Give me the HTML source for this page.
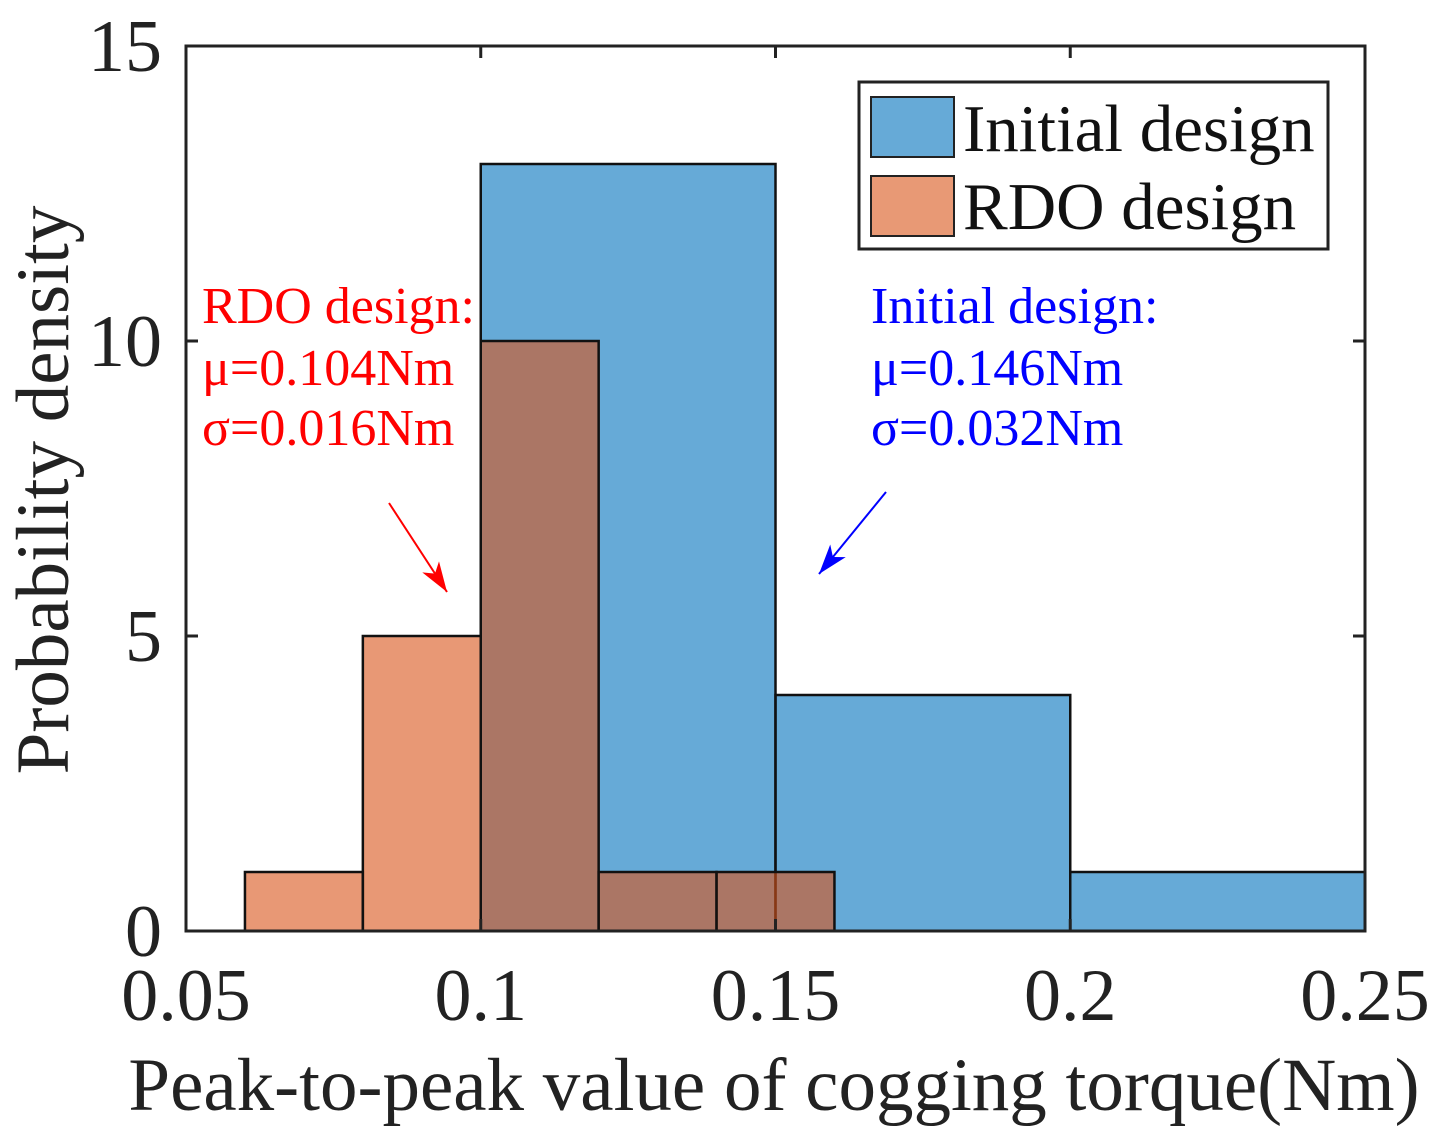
<!DOCTYPE html>
<html><head><meta charset="utf-8"><style>
body{margin:0;background:#fff}
svg{display:block}
text{font-family:"Liberation Serif",serif}
</style></head><body>
<svg id="chart" width="1444" height="1142" xmlns="http://www.w3.org/2000/svg">
<defs><marker id="ar" markerWidth="32" markerHeight="24" refX="30" refY="12" orient="auto" markerUnits="userSpaceOnUse"><path d="M0,2 L30,12 L0,22 L8,12 Z" fill="context-stroke"/></marker></defs>
<g id="bars"></g>
<g id="axes"></g>
<g>
<rect x="859" y="82" width="469" height="167" fill="#fff" stroke="#222" stroke-width="3"/>
<rect x="871" y="97" width="83" height="60" fill="#66aad7" stroke="#222" stroke-width="2"/>
<text x="963" y="151" font-size="67" fill="#111">Initial design</text>
<rect x="871" y="176" width="83" height="60" fill="#e89975" stroke="#222" stroke-width="2"/>
<text x="963" y="229" font-size="67" fill="#111">RDO design</text>
</g>
<g fill="#ff0000" font-size="52">
<text x="202" y="323">RDO design:</text><text x="202" y="385">μ=0.104Nm</text><text x="202" y="445">σ=0.016Nm</text>
</g>
<line x1="389" y1="503" x2="447" y2="592" stroke="#ff0000" stroke-width="2" marker-end="url(#ar)"/>
<g fill="#0000ff" font-size="52">
<text x="871" y="323">Initial design:</text><text x="871" y="385">μ=0.146Nm</text><text x="871" y="445">σ=0.032Nm</text>
</g>
<line x1="886" y1="492" x2="819" y2="574" stroke="#0000ff" stroke-width="2" marker-end="url(#ar)"/>
<text x="774" y="1110" font-size="75" text-anchor="middle" fill="#222">Peak-to-peak value of cogging torque(Nm)</text>
<text transform="translate(68,490) rotate(-90)" font-size="75" text-anchor="middle" fill="#222">Probability density</text>
</svg>
<script>
const initialEdges=[0.1,0.15,0.2,0.25];
const initialValues=[13,4,1];
const rdoEdges=[0.06,0.08,0.1,0.12,0.14,0.16];
const rdoValues=[1,5,10,1,1];
const xTicks=[0.05,0.1,0.15,0.2,0.25];
const xTickLabels=["0.05","0.1","0.15","0.2","0.25"];
const yTicks=[0,5,10,15];
const yTickLabels=["0","5","10","15"];
const X0=186,X1=1365,Y0=931,Y1=46;
const sx=v=>X0+(v-0.05)/(0.25-0.05)*(X1-X0);
const sy=v=>Y0-(v/15)*(Y0-Y1);
const NS="http://www.w3.org/2000/svg";
const bars=document.getElementById('bars'),axes=document.getElementById('axes');
function mk(p,t,a){const e=document.createElementNS(NS,t);for(const k in a)e.setAttribute(k,a[k]);p.appendChild(e);return e;}
initialValues.forEach((v,i)=>{const r=mk(bars,'rect',{x:sx(initialEdges[i]),y:sy(v),width:sx(initialEdges[i+1])-sx(initialEdges[i]),height:sy(0)-sy(v),fill:'#0072bd','fill-opacity':0.6,stroke:'#111','stroke-width':2.5});

});
rdoValues.forEach((v,i)=>{const r=mk(bars,'rect',{x:sx(rdoEdges[i]),y:sy(v),width:sx(rdoEdges[i+1])-sx(rdoEdges[i]),height:sy(0)-sy(v),fill:'#d95319','fill-opacity':0.6,stroke:'#111','stroke-width':2.5});

});
mk(axes,'rect',{x:X0,y:Y1,width:X1-X0,height:Y0-Y1,fill:'none',stroke:'#222','stroke-width':3});
xTicks.forEach((t,i)=>{const x=sx(t);mk(axes,'line',{x1:x,y1:Y0,x2:x,y2:Y0-12,stroke:'#222','stroke-width':3});mk(axes,'line',{x1:x,y1:Y1,x2:x,y2:Y1+12,stroke:'#222','stroke-width':3});
const l=mk(axes,'text',{x:x,y:1020,'font-size':74,'text-anchor':'middle',fill:'#222'});l.textContent=xTickLabels[i];

});
yTicks.forEach((t,i)=>{const y=sy(t);mk(axes,'line',{x1:X0,y1:y,x2:X0+12,y2:y,stroke:'#222','stroke-width':3});mk(axes,'line',{x1:X1,y1:y,x2:X1-12,y2:y,stroke:'#222','stroke-width':3});
const l=mk(axes,'text',{x:162,y:y+25,'font-size':74,'text-anchor':'end',fill:'#222'});l.textContent=yTickLabels[i];

});
</script>
</body></html>
